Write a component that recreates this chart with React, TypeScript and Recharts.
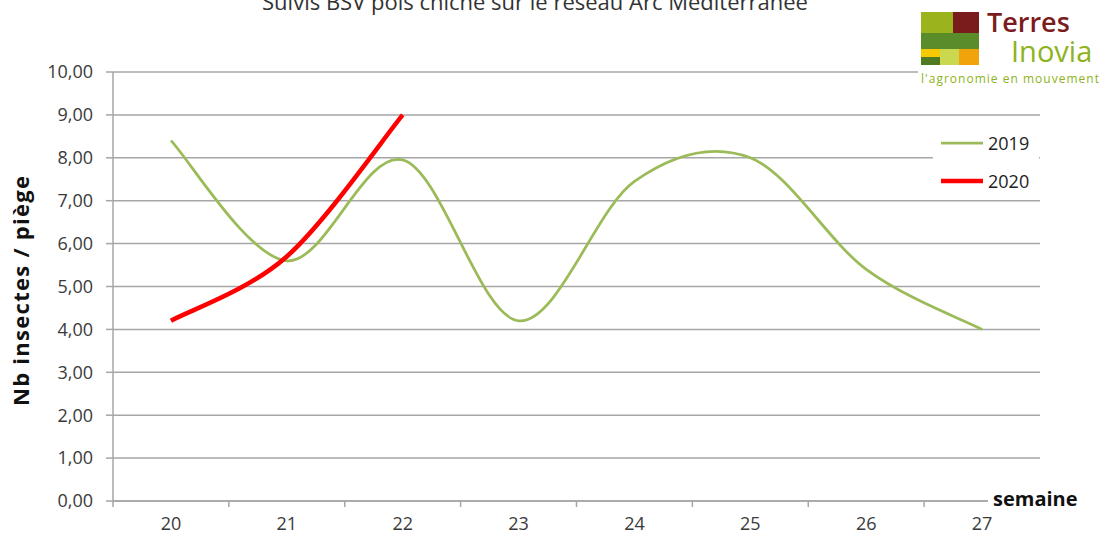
import { CartesianGrid, Legend, Line, LineChart, XAxis, YAxis } from "recharts";

const weeks = [20, 21, 22, 23, 24, 25, 26, 27];
const values2019 = [8.4, 5.6, 7.95, 4.2, 7.45, 8.0, 5.4, 4.0];
const values2020 = [4.2, 5.7, 9.0];
const yTicks = [0, 1, 2, 3, 4, 5, 6, 7, 8, 9, 10];

const FONT = '"Open Sans", "Liberation Sans", sans-serif';
const GRID = "#a6a6a6";
const TEXT = "#3a3a3a";

const data = weeks.map((week, i) => ({
  week,
  y2019: values2019[i],
  y2020: i < values2020.length ? values2020[i] : null,
}));

// ticks at category centres (labels) and at boundaries (tick marks)
const xTicks = weeks.flatMap((w) => [w - 0.5, w]).concat(weeks[weeks.length - 1] + 0.5);

// Excel-style smoothed line (Catmull-Rom as cubic Bezier)
const excelCurve = (context: any) => {
  let pts: [number, number][] = [];
  return {
    areaStart() {},
    areaEnd() {},
    lineStart() {
      pts = [];
    },
    lineEnd() {
      const n = pts.length;
      if (!n) return;
      context.moveTo(pts[0][0], pts[0][1]);
      for (let i = 0; i < n - 1; i++) {
        const p0 = pts[Math.max(0, i - 1)];
        const p1 = pts[i];
        const p2 = pts[i + 1];
        const p3 = pts[Math.min(n - 1, i + 2)];
        context.bezierCurveTo(
          p1[0] + (p2[0] - p0[0]) / 6,
          p1[1] + (p2[1] - p0[1]) / 6,
          p2[0] - (p3[0] - p1[0]) / 6,
          p2[1] - (p3[1] - p1[1]) / 6,
          p2[0],
          p2[1],
        );
      }
    },
    point(x: number, y: number) {
      pts.push([+x, +y]);
    },
  };
};

function WeekTick(props: any) {
  const { x, y, payload } = props;
  const v = payload.value as number;
  if (Number.isInteger(v)) {
    return (
      <text x={x} y={y + 23} textAnchor="middle" fontSize={18} fontFamily={FONT} fill={TEXT}>
        {v}
      </text>
    );
  }
  return <line x1={x} x2={x} y1={y - 6} y2={y} stroke={GRID} strokeWidth={1.5} />;
}

function LegendBox(props: any) {
  const items = props.payload || [];
  return (
    <svg width={106} height={75} style={{ display: "block", background: "#fff" }}>
      {items.map((item: any, i: number) => {
        const cy = 21 + 38 * i;
        return (
          <g key={item.value}>
            <line
              x1={8}
              x2={50}
              y1={cy}
              y2={cy}
              stroke={item.color}
              strokeWidth={i === 0 ? 2.75 : 4.5}
            />
            <text x={55} y={cy + 6.5} fontSize={18} fontFamily={FONT} fill="#222">
              {item.value}
            </text>
          </g>
        );
      })}
    </svg>
  );
}

export default function App() {
  return (
    <div
      style={{
        position: "absolute",
        left: 0,
        top: 0,
        width: 1099,
        height: 535,
        background: "#fff",
        overflow: "hidden",
        fontFamily: FONT,
      }}
    >
      <LineChart
        width={1099}
        height={535}
        data={data}
        margin={{ top: 72, right: 59, bottom: 4, left: 53 }}
      >
        <CartesianGrid vertical={false} stroke={GRID} strokeWidth={1.5} />
        <XAxis
          dataKey="week"
          type="number"
          domain={[19.5, 27.5]}
          ticks={xTicks}
          interval={0}
          height={30}
          tickSize={6}
          tickMargin={0}
          tickLine={false}
          axisLine={{ stroke: GRID, strokeWidth: 1.5 }}
          tick={<WeekTick />}
        />
        <YAxis
          domain={[0, 10]}
          ticks={yTicks}
          interval={0}
          width={60}
          tickSize={7}
          tickMargin={13}
          axisLine={{ stroke: GRID, strokeWidth: 1.5 }}
          tickLine={{ stroke: GRID, strokeWidth: 1.5 }}
          tick={{ fill: TEXT, fontSize: 18, fontFamily: FONT }}
          tickFormatter={(v: number) => v.toFixed(2).replace(".", ",")}
        />
        <Legend
          layout="vertical"
          align="center"
          verticalAlign="middle"
          content={<LegendBox />}
          wrapperStyle={{ position: "absolute", left: 933, top: 122, width: 106, height: 75 }}
        />
        <Line
          name="2019"
          dataKey="y2019"
          type={excelCurve as any}
          stroke="#9bbb59"
          strokeWidth={2.75}
          dot={false}
          activeDot={false}
          isAnimationActive={false}
        />
        <Line
          name="2020"
          dataKey="y2020"
          type={excelCurve as any}
          stroke="#ff0000"
          strokeWidth={4.5}
          dot={false}
          activeDot={false}
          isAnimationActive={false}
        />
      </LineChart>

      <svg
        width={1099}
        height={535}
        style={{ position: "absolute", left: 0, top: 0, pointerEvents: "none" }}
      >
        <text x={535} y={10} textAnchor="middle" fontSize={22} fontFamily={FONT} fill="#333">
          Suivis BSV pois chiche sur le réseau Arc Méditerranée
        </text>

        <text
          transform="translate(29 291) rotate(-90)"
          textAnchor="middle"
          fontSize={22}
          fontWeight="bold"
          fontFamily={FONT}
          fill="#111"
          textLength={230}
        >
          Nb insectes / piège
        </text>

        <rect x={988} y={489} width={100} height={22} fill="#fff" />
        <text x={993} y={506} fontSize={20} fontWeight="bold" fontFamily={FONT} fill="#111">
          semaine
        </text>

        {/* Terres Inovia logo */}
        <rect x={918} y={0} width={181} height={92} fill="#fff" />
        <rect x={921} y={12} width={32} height={21} fill="#9bb41e" />
        <rect x={953} y={12} width={26} height={21} fill="#7b1c1c" />
        <rect x={921} y={33} width={58} height={16} fill="#5b8c2a" />
        <rect x={921} y={49} width={19} height={8} fill="#f6c900" />
        <rect x={921} y={57} width={19} height={8} fill="#4f7a22" />
        <rect x={940} y={49} width={19} height={16} fill="#c9d84f" />
        <rect x={959} y={49} width={20} height={16} fill="#f0a30a" />
        <text x={987} y={32} fontSize={27} fontWeight={600} fontFamily={FONT} fill="#7b1c1c">
          Terres
        </text>
        <text x={1011} y={62} fontSize={29} fontFamily={FONT} fill="#8db320">
          Inovia
        </text>
        <text x={921} y={83} fontSize={12} fontFamily={FONT} fill="#8db320" textLength={178}>
          l'agronomie en mouvement
        </text>
      </svg>
    </div>
  );
}
